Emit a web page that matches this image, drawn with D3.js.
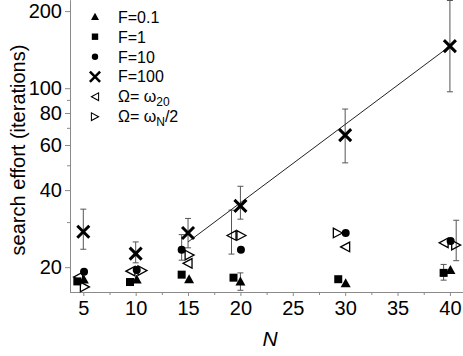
<!DOCTYPE html>
<html>
<head>
<meta charset="utf-8">
<script src="https://cdn.jsdelivr.net/npm/d3@7"></script>
<style>
  body { margin: 0; background: #fff; }
  svg { display: block; font-family: "Liberation Sans", Arial, sans-serif; }
</style>
</head>
<body>
<svg id="chart" width="463" height="356"></svg>
<script>
// tick values
const xTicks = [5, 10, 15, 20, 25, 30, 35, 40]
const xMinor = [7.5, 12.5, 17.5, 22.5, 27.5, 32.5, 37.5]
const yTicks = [20, 40, 60, 80, 100, 200]
const yMinor = [30, 50, 70, 90]

// F=0.1 (filled up triangle)
const nF01 = [5.05, 10.1, 15.1, 20.0, 30.05, 40.05]
const effF01 = [17.9, 17.9, 17.95, 17.6, 17.3, 19.5]
const loF01 = [null, null, null, 16.25, null, null]
const hiF01 = [null, null, null, 19.0, null, null]

// F=1 (filled square)
const nF1 = [4.43, 9.46, 14.39, 19.34, 29.34, 39.4]
const effF1 = [17.6, 17.5, 18.7, 18.2, 17.95, 19.0]
const loF1 = [null, null, null, null, null, 17.8]
const hiF1 = [null, null, null, null, null, 20.5]

// F=10 (filled circle)
const nF10 = [5.07, 10.1, 14.39, 20.05, 30.05, 40.07]
const effF10 = [19.2, 19.5, 23.4, 23.4, 27.2, 25.3]
const loF10 = [null, null, 21.3, null, null, null]
const hiF10 = [null, null, 26.8, null, null, null]

// F=100 (cross)
const nF100 = [5, 10, 15, 20, 30, 40]
const effF100 = [27.5, 22.6, 27.2, 34.7, 65.6, 146]
const loF100 = [23.5, 20.8, 23.8, 30.8, 51.1, 96.8]
const hiF100 = [33.7, 25.1, 31.0, 41.4, 82.9, 220]

// Omega = omega_20 (open left triangle)
const nW20 = [4.5, 9.5, 14.95, 19.15, 30.0, 39.4]
const effW20 = [18.3, 19.3, 20.7, 26.6, 24.0, 24.9]
const loW20 = [null, null, null, 22.5, null, null]
const hiW20 = [null, null, null, 33.4, null, null]

// Omega = omega_N / 2 (open right triangle)
const nWN = [5.15, 10.65, 15.15, 20.1, 29.3, 40.6]
const effWN = [16.75, 19.4, 22.3, 26.6, 27.2, 24.4]
const loWN = [null, null, null, null, null, 21.2]
const hiWN = [null, null, null, null, null, 30.5]

// fit line through F=100
const fitN = [15, 40]
const fitEff = [25.1, 146]

const width = 463
const height = 356
const left = 70, bottom = 292

const svg = d3.select("#chart")

const x = d3.scaleLinear().domain([3.73, 41.25]).range([left, width])
const y = d3.scaleLog().domain([16, 221]).range([bottom, 0])

const shapes = {
  up: "M0,-5L5,4L-5,4Z",
  square: "M-4,-4h8v8h-8z",
  cross: "M-6,-6L6,6M6,-6L-6,6",
  left: "M-4.5,0L4.5,-4.8L4.5,4.8Z",
  right: "M4.5,0L-4.5,-4.8L-4.5,4.8Z"
}

function styleMarker(sel, kind) {
  if (kind === "cross") {
    sel.attr("fill", "none").attr("stroke", "#000").attr("stroke-width", 3)
  } else if (kind === "left" || kind === "right") {
    sel.attr("fill", "none").attr("stroke", "#000").attr("stroke-width", 1.3).attr("stroke-linejoin", "miter")
  } else {
    sel.attr("fill", "#000")
  }
}

function drawMarker(g, kind, cx, cy, s) {
  let m
  if (kind === "circle") {
    m = g.append("circle").attr("cx", cx).attr("cy", cy).attr("r", 4 * s)
  } else {
    m = g.append("path").attr("d", shapes[kind])
      .attr("transform", `translate(${cx},${cy}) scale(${s})`)
  }
  styleMarker(m, kind)
}

const series = [
  { kind: "right", n: nWN, v: effWN, lo: loWN, hi: hiWN },
  { kind: "left", n: nW20, v: effW20, lo: loW20, hi: hiW20 },
  { kind: "cross", n: nF100, v: effF100, lo: loF100, hi: hiF100 },
  { kind: "square", n: nF1, v: effF1, lo: loF1, hi: hiF1 },
  { kind: "up", n: nF01, v: effF01, lo: loF01, hi: hiF01 },
  { kind: "circle", n: nF10, v: effF10, lo: loF10, hi: hiF10 }
]

// axes
const axisColor = "#8a8a8a"

function styleAxis(g) {
  g.attr("font-family", null).attr("font-size", null)
  g.select(".domain").attr("stroke", axisColor)
  g.selectAll(".tick line").attr("stroke", axisColor)
  g.selectAll(".tick text").attr("fill", "#000").style("font-size", "20px")
}

svg.append("g").attr("transform", `translate(${left},0)`)
  .call(d3.axisLeft(y).tickValues(yMinor).tickSize(3).tickSizeOuter(0).tickFormat(""))
  .call(styleAxis)
svg.append("g").attr("transform", `translate(${left},0)`)
  .call(d3.axisLeft(y).tickValues(yTicks).tickSize(5).tickSizeOuter(0).tickPadding(3).tickFormat(d3.format("d")))
  .call(styleAxis)

svg.append("g").attr("transform", `translate(0,${bottom})`)
  .call(d3.axisBottom(x).tickValues(xMinor).tickSize(3).tickSizeOuter(0).tickFormat(""))
  .call(styleAxis)
svg.append("g").attr("transform", `translate(0,${bottom})`)
  .call(d3.axisBottom(x).tickValues(xTicks).tickSize(4).tickSizeOuter(0).tickPadding(5).tickFormat(d3.format("d")))
  .call(styleAxis)

// axis titles
svg.append("text")
  .attr("transform", `translate(25,150) rotate(-90)`)
  .attr("text-anchor", "middle")
  .style("font-size", "20px")
  .text("search effort (iterations)")

svg.append("text")
  .attr("x", 270).attr("y", 346)
  .attr("text-anchor", "middle")
  .style("font-size", "21px")
  .style("font-style", "italic")
  .text("N")

// error bars
const errG = svg.append("g").attr("stroke", "#555").attr("stroke-width", 1).attr("fill", "none")
series.forEach(s => {
  s.n.forEach((n, i) => {
    if (s.lo[i] == null) return
    const cx = x(n), y0 = y(s.lo[i]), y1 = y(s.hi[i])
    errG.append("line").attr("x1", cx).attr("x2", cx).attr("y1", y0).attr("y2", y1)
    errG.append("line").attr("x1", cx - 3).attr("x2", cx + 3).attr("y1", y0).attr("y2", y0)
    errG.append("line").attr("x1", cx - 3).attr("x2", cx + 3).attr("y1", y1).attr("y2", y1)
  })
})

// fit line
svg.append("path")
  .datum(fitN.map((n, i) => [n, fitEff[i]]))
  .attr("fill", "none")
  .attr("stroke", "#222")
  .attr("stroke-width", 1)
  .attr("d", d3.line().x(d => x(d[0])).y(d => y(d[1])))

// markers
const markG = svg.append("g")
series.forEach(s => {
  s.n.forEach((n, i) => drawMarker(markG, s.kind, x(n), y(s.v[i]), 1))
})

// legend
const legendKinds = ["up", "square", "circle", "cross", "left", "right"]
const legG = svg.append("g")
legendKinds.forEach((k, i) => {
  drawMarker(legG, k, 95, 16.7 + i * 20, k === "cross" ? 0.85 : 0.8)
})
const legText = legG.append("g").style("font-size", "16px")
const fLabels = ["F=0.1", "F=1", "F=10", "F=100"]
fLabels.forEach((t, i) => {
  legText.append("text").attr("x", 118).attr("y", 23 + i * 19.8).text(t)
})
const t5 = legText.append("text").attr("x", 118).attr("y", 102.2)
t5.append("tspan").text("Ω= ω")
t5.append("tspan").attr("dy", 4).style("font-size", "12px").text("20")
const t6 = legText.append("text").attr("x", 118).attr("y", 122)
t6.append("tspan").text("Ω= ω")
t6.append("tspan").attr("dy", 4).style("font-size", "12px").text("N")
t6.append("tspan").attr("dy", -4).text("/2")
</script>
</body>
</html>
